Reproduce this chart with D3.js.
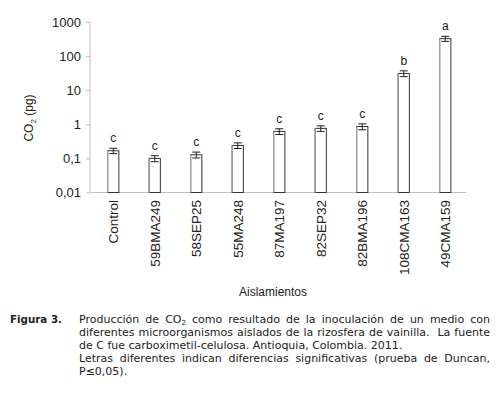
<!DOCTYPE html>
<html><head><meta charset="utf-8">
<script src="https://cdn.jsdelivr.net/npm/d3@7"></script>
<style>body{margin:0;background:#fff}svg{display:block}</style>
</head><body>
<script>
const categories = ["Control","59BMA249","58SEP25","55MA248","87MA197","82SEP32","82BMA196","108CMA163","49CMA159"];
const values = [0.168, 0.100, 0.128, 0.240, 0.62, 0.76, 0.86, 31, 325];
const errors = [0.03, 0.02, 0.025, 0.045, 0.12, 0.14, 0.17, 6, 55];
const letters = ["c","c","c","c","c","c","c","b","a"];
const yTicks = [0.01, 0.1, 1, 10, 100, 1000];
const yTickLabels = ["0,01","0,1","1","10","100","1000"];

const W = 501, H = 397;
const svg = d3.select("body").append("svg").attr("width", W).attr("height", H);

const y = d3.scaleLog().domain([0.01, 1000]).range([192.5, 22]);
const x = d3.scaleBand().domain(categories).range([92.5, 466]).paddingInner(0.73).paddingOuter(0.365);

// y axis
const yAxis = d3.axisLeft(y).tickValues(yTicks).tickFormat((d,i) => yTickLabels[i]).tickSize(4).tickPadding(5);
const gy = svg.append("g").attr("transform", "translate(90,0)").call(yAxis);
gy.select(".domain").attr("stroke", "#c0c0c0").attr("d", "M0,22V192.5");
gy.selectAll(".tick line").attr("stroke", "#c0c0c0");
gy.selectAll(".tick text").attr("font-family", "Liberation Sans, Arial, sans-serif").attr("font-size", 13).attr("fill", "#222");

// x axis baseline
svg.append("line").attr("x1", 90).attr("x2", 466).attr("y1", y(0.01)).attr("y2", y(0.01)).attr("stroke", "#c0c0c0");

// bars
const bars = svg.append("g");
bars.selectAll("rect").data(categories).join("rect")
  .attr("x", d => x(d)).attr("width", x.bandwidth())
  .attr("y", (d,i) => y(values[i])).attr("height", (d,i) => y(0.01) - y(values[i]))
  .attr("fill", "#fff").attr("stroke", "#333").attr("stroke-width", 1);
bars.selectAll("line.l").data(categories).join("line").attr("class","l")
  .attr("x1", d => x(d)).attr("x2", d => x(d))
  .attr("y1", (d,i) => y(values[i])).attr("y2", y(0.01))
  .attr("stroke", "#a0a0a0").attr("stroke-width", 1.3);

// error bars
const eb = svg.append("g").attr("stroke", "#222").attr("stroke-width", 1);
categories.forEach((c,i) => {
  const cx = x(c) + x.bandwidth()/2;
  const y1 = y(values[i] + errors[i]), y2 = y(values[i] - errors[i]);
  eb.append("line").attr("x1", cx).attr("x2", cx).attr("y1", y1).attr("y2", y2);
  eb.append("line").attr("x1", cx-4).attr("x2", cx+4).attr("y1", y1).attr("y2", y1);
  eb.append("line").attr("x1", cx-4).attr("x2", cx+4).attr("y1", y2).attr("y2", y2);
});

// letters
svg.append("g").selectAll("text").data(categories).join("text")
  .attr("x", d => x(d) + x.bandwidth()/2)
  .attr("y", (d,i) => y(values[i] + errors[i]) - 6)
  .attr("text-anchor", "middle")
  .attr("font-family", "Liberation Sans, Arial, sans-serif").attr("font-size", 12).attr("fill", "#222")
  .text((d,i) => letters[i]);

// x labels
svg.append("g").selectAll("text").data(categories).join("text")
  .attr("transform", d => `translate(${x(d) + x.bandwidth()/2 + 5},200) rotate(-90)`)
  .attr("text-anchor", "end")
  .attr("font-family", "Liberation Sans, Arial, sans-serif").attr("font-size", 13.5).attr("fill", "#222")
  .text(d => d);

// axis titles
const yt = svg.append("text").attr("transform", "translate(33,118) rotate(-90)")
  .attr("text-anchor", "middle").attr("font-family", "Liberation Sans, Arial, sans-serif")
  .attr("font-size", 12).attr("fill", "#222");
yt.append("tspan").text("CO");
yt.append("tspan").attr("font-size", 8).attr("dy", 3).text("2");
yt.append("tspan").attr("dy", -3).text(" (pg)");

svg.append("text").attr("x", 273).attr("y", 296).attr("text-anchor", "middle")
  .attr("font-family", "Liberation Sans, Arial, sans-serif").attr("font-size", 12).attr("fill", "#222")
  .text("Aislamientos");

// caption
const capFont = "DejaVu Sans, Verdana, sans-serif";
const capSize = 11;
svg.append("text").attr("x", 10).attr("y", 323).attr("font-family", capFont).attr("font-size", 10.3)
  .attr("font-weight", "bold").attr("fill", "#222").text("Figura 3.");

const capLines = [
  {words: ["Producción","de","CO_2","como","resultado","de","la","inoculación","de","un","medio","con"], justify: true},
  {words: ["diferentes","microorganismos","aislados","de","la","rizosfera","de","vainilla.","","La","fuente"], justify: true},
  {words: ["de","C","fue","carboximetil-celulosa.","Antioquia,","Colombia.","2011."], justify: false},
  {words: ["Letras","diferentes","indican","diferencias","significativas","(prueba","de","Duncan,"], justify: true},
  {words: ["P≤0,05)."], justify: false}
];
const capX0 = 79, capX1 = 490;
capLines.forEach((ln, li) => {
  const by = 323 + li * 13;
  const g = svg.append("g");
  const nodes = ln.words.map(w => {
    const t = g.append("text").attr("y", by).attr("font-family", capFont).attr("font-size", capSize).attr("fill", "#222");
    if (w.includes("_")) {
      const [a, b] = w.split("_");
      t.append("tspan").text(a);
      t.append("tspan").attr("font-size", 7).attr("dy", 1.5).text(b);
    } else t.text(w);
    return t;
  });
  const widths = nodes.map(n => n.text() === "" ? 0 : n.node().getComputedTextLength());
  const total = d3.sum(widths);
  const space = capSize * 0.318;
  const gap = ln.justify ? (capX1 - capX0 - total) / (nodes.length - 1) : space;
  let cx = capX0;
  nodes.forEach((n, i) => { n.attr("x", cx); cx += widths[i] + gap; });
});
</script>
</body></html>
